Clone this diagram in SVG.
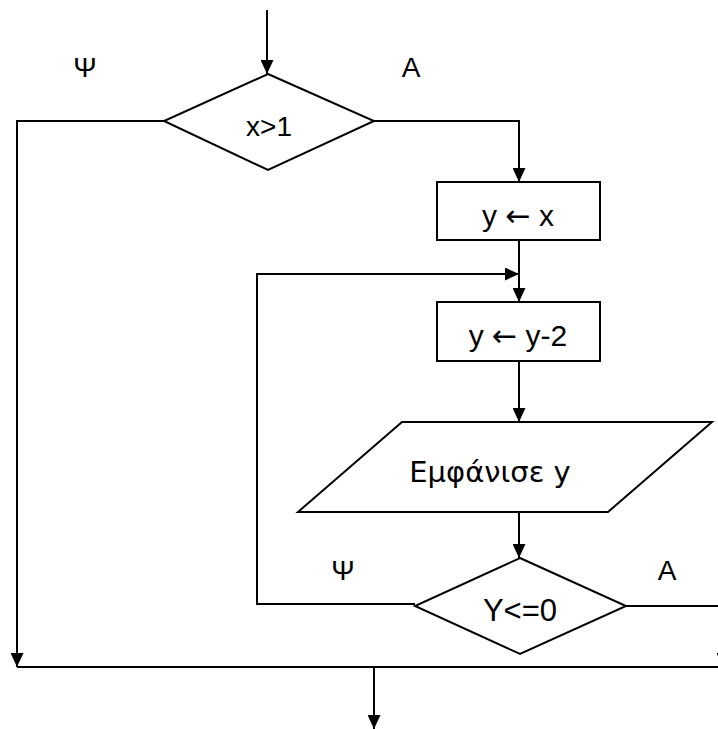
<svg xmlns="http://www.w3.org/2000/svg" width="718" height="729" viewBox="0 0 718 729">
<defs>
<marker id="ah" viewBox="0 0 14 13" refX="14" refY="6.5" markerWidth="14" markerHeight="13" markerUnits="userSpaceOnUse" orient="auto">
<path d="M0,0 L14,6.5 L0,13 Z" fill="#000"/>
</marker>
<style>
.shape{fill:#fff;stroke:#000;stroke-width:2}
.ln{fill:none;stroke:#000;stroke-width:2}
.t{font-family:"Liberation Sans",Arial,sans-serif;font-size:30px;fill:#000;text-anchor:middle}
.dv{font-family:"DejaVu Sans",sans-serif}
</style>
</defs>
<rect width="718" height="729" fill="#fff"/>
<g id="connectors">
<path class="ln" d="M267,10 L267,74" marker-end="url(#ah)"/>
<path class="ln" d="M164,121 L17,121 L17,667" marker-end="url(#ah)"/>
<path class="ln" d="M374,121 L519,121 L519,182" marker-end="url(#ah)"/>
<path class="ln" d="M519,240 L519,302" marker-end="url(#ah)"/>
<path class="ln" d="M415,604 L257,604 L257,274 L519,274" marker-end="url(#ah)"/>
<path class="ln" d="M519,361 L519,422" marker-end="url(#ah)"/>
<path class="ln" d="M519,512 L519,558" marker-end="url(#ah)"/>
<path class="ln" d="M626,606 L723,606 L723,667" marker-end="url(#ah)"/>
<path class="ln" d="M17,667 L723,667"/>
<path class="ln" d="M374,667 L374,729" marker-end="url(#ah)"/>
</g>
<g id="cond1">
<polygon class="shape" points="268,74 374,121 268,170 164,121"/>
<text class="t" x="269" y="136" style="font-size:28px">x&gt;1</text>
</g>
<g id="labels1">
<text class="t" x="85" y="77" style="font-size:28px">Ψ</text>
<text class="t" x="411" y="77" style="font-size:28px">A</text>
</g>
<g id="assign1">
<rect class="shape" x="437" y="182" width="163" height="58"/>
<text class="t" x="518" y="226">y <tspan class="dv">←</tspan> x</text>
</g>
<g id="assign2">
<rect class="shape" x="437" y="302" width="163" height="59"/>
<text class="t" x="518" y="346">y <tspan class="dv">←</tspan> y-2</text>
</g>
<g id="output">
<polygon class="shape" points="402,422 712,422 608,512 298,512"/>
<text class="t dv" x="490" y="482" style="font-size:29px">Εμφάνισε y</text>
</g>
<g id="cond2">
<polygon class="shape" points="520,558 626,606 520,654 415,606"/>
<text class="t" x="520" y="621" style="font-size:31px">Y&lt;=0</text>
</g>
<g id="labels2">
<text class="t" x="343" y="580" style="font-size:28px">Ψ</text>
<text class="t" x="667" y="580" style="font-size:28px">A</text>
</g>
</svg>
